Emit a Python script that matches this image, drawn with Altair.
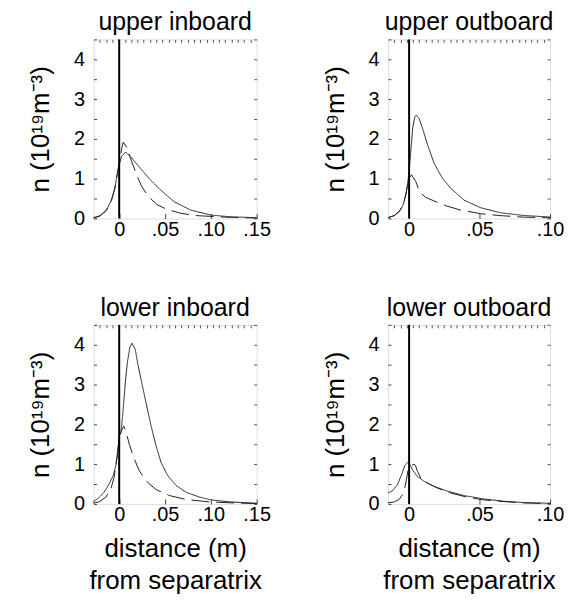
import altair as alt
import pandas as pd

FONT = "Liberation Sans"

# ---------------- data ----------------
# upper inboard
ui_sx = [-0.028, -0.021, -0.014, -0.0085, -0.0048, -0.0022, 0.0, 0.0026, 0.007, 0.0136, 0.0228, 0.034, 0.045, 0.06, 0.078, 0.10, 0.122, 0.15]
ui_sy = [0.02, 0.07, 0.21, 0.46, 0.76, 1.10, 1.35, 1.56, 1.67, 1.52, 1.27, 0.97, 0.72, 0.42, 0.21, 0.085, 0.04, 0.02]
ui_dx = [-0.028, -0.021, -0.014, -0.0085, -0.0048, -0.0022, 0.0, 0.0026, 0.0044, 0.0088, 0.0136, 0.019, 0.0246, 0.032, 0.041, 0.052, 0.067, 0.085, 0.115, 0.15]
ui_dy = [0.01, 0.06, 0.20, 0.45, 0.75, 1.10, 1.40, 1.75, 1.92, 1.77, 1.43, 1.10, 0.80, 0.55, 0.35, 0.23, 0.13, 0.07, 0.034, 0.01]

# upper outboard
uo_sx = [-0.015, -0.0106, -0.0071, -0.0042, -0.0024, -0.0012, 0.0, 0.0012, 0.0026, 0.004, 0.0052, 0.0071, 0.0094, 0.013, 0.0177, 0.0236, 0.0295, 0.039, 0.0507, 0.065, 0.081, 0.10]
uo_sy = [0.02, 0.07, 0.17, 0.34, 0.59, 0.84, 1.18, 1.69, 2.28, 2.55, 2.60, 2.51, 2.28, 1.86, 1.39, 1.01, 0.76, 0.46, 0.27, 0.14, 0.076, 0.034]
uo_dx = [-0.015, -0.0106, -0.0071, -0.0042, -0.0024, -0.0012, 0.0, 0.0017, 0.0047, 0.0075, 0.0118, 0.0177, 0.026, 0.0366, 0.0507, 0.065, 0.081, 0.10]
uo_dy = [0.02, 0.07, 0.17, 0.34, 0.59, 0.80, 1.00, 1.10, 0.93, 0.66, 0.53, 0.44, 0.32, 0.21, 0.12, 0.07, 0.034, 0.017]

# lower inboard
li_sx = [-0.0285, -0.0238, -0.0165, -0.011, -0.0066, -0.0037, -0.0015, 0.0, 0.0018, 0.0037, 0.0055, 0.0073, 0.0091, 0.0117, 0.0139, 0.0176, 0.0201, 0.0238, 0.0293, 0.0348, 0.0402, 0.0457, 0.053, 0.0622, 0.0732, 0.0878, 0.1006, 0.1207, 0.15]
li_sy = [0.06, 0.125, 0.29, 0.50, 0.71, 0.96, 1.29, 1.71, 1.79, 2.21, 2.71, 3.21, 3.58, 3.94, 4.04, 3.88, 3.54, 3.13, 2.54, 1.96, 1.46, 1.04, 0.71, 0.46, 0.29, 0.17, 0.10, 0.05, 0.017]
li_dx = [-0.0285, -0.022, -0.0146, -0.0091, -0.0055, -0.0037, -0.0018, 0.0, 0.0018, 0.0048, 0.0073, 0.011, 0.0165, 0.022, 0.0293, 0.0402, 0.0549, 0.0732, 0.0988, 0.124, 0.15]
li_dy = [0.02, 0.05, 0.17, 0.375, 0.67, 0.96, 1.29, 1.71, 1.79, 1.96, 1.83, 1.50, 1.125, 0.83, 0.58, 0.36, 0.21, 0.11, 0.05, 0.025, 0.008]

# lower outboard
lo_sx = [-0.015, -0.0118, -0.0083, -0.0054, -0.0031, -0.0012, 0.0, 0.0024, 0.0059, 0.0106, 0.0177, 0.0271, 0.0389, 0.053, 0.0672, 0.0814, 0.10]
lo_sy = [0.275, 0.33, 0.48, 0.73, 0.96, 1.04, 1.03, 0.86, 0.69, 0.57, 0.44, 0.32, 0.21, 0.125, 0.067, 0.033, 0.017]
lo_dx = [-0.015, -0.0106, -0.0071, -0.0047, -0.0031, -0.0017, -0.0005, 0.0, 0.002, 0.0035, 0.0045, 0.0059, 0.0083, 0.013, 0.02, 0.0295, 0.0413, 0.053, 0.0672, 0.0814, 0.10]
lo_dy = [0.025, 0.05, 0.11, 0.23, 0.40, 0.65, 0.90, 0.92, 0.97, 1.00, 0.97, 0.82, 0.65, 0.525, 0.40, 0.275, 0.167, 0.10, 0.058, 0.025, 0.008]

titles = ["upper inboard", "upper outboard", "lower inboard", "lower outboard"]
in_domain = [-0.028, 0.15]
out_domain = [-0.015, 0.10]
in_ticks = [0, 0.05, 0.10, 0.15]
out_ticks = [0, 0.05, 0.10]
y_domain = [0, 4.5]
y_ticks = [0, 0.5, 1, 1.5, 2, 2.5, 3, 3.5, 4, 4.5]

Y_TITLE = "n (10\u00b9\u2079m\u207b\u00b3)"
X_TITLE = ["distance (m)", "from separatrix"]

W_IN, W_OUT, H = 164, 163, 180


def panel(title, sx, sy, dx, dy, domain, ticks, width, show_xtitle):
    df = pd.DataFrame(
        {
            "x": list(sx) + list(dx),
            "n": list(sy) + list(dy),
            "kind": ["solid"] * len(sx) + ["dashed"] * len(dx),
        }
    )
    xscale = alt.Scale(domain=domain, nice=False, zero=False)
    yscale = alt.Scale(domain=y_domain, nice=False, zero=False)
    top_ticks = [round(domain[0] + i * (domain[1] - domain[0]) / 26, 5) for i in range(1, 26)]

    xaxis_kw = dict(
        orient="bottom", values=ticks, offset=-5, tickSize=5, domain=False, grid=False,
        labelExpr="datum.value == 0 ? '0' : replace(format(datum.value, '.2f'), '0.', '.')",
        labelFont=FONT, labelFontSize=20, labelColor="black", labelPadding=1,
        labelFlush=False, labelOverlap=False, labelBound=False,
        tickColor="#444", tickWidth=1,
    )
    if show_xtitle:
        xaxis_kw.update(title=X_TITLE, titleFont=FONT, titleFontSize=26, titleFontWeight="normal",
                        titleColor="black", titlePadding=11, titleLineHeight=32)
    else:
        xaxis_kw.update(title=None)

    lines = alt.Chart(df).mark_line(strokeWidth=1, color="#222").encode(
        x=alt.X("x:Q", scale=xscale, axis=alt.Axis(**xaxis_kw)),
        y=alt.Y(
            "n:Q", scale=yscale,
            axis=alt.Axis(
                orient="left", values=y_ticks, offset=-3, tickSize=3, domain=False, grid=False,
                labelExpr="datum.value % 1 ? '' : format(datum.value, 'd')",
                labelFont=FONT, labelFontSize=20, labelColor="black", labelPadding=9,
                labelFlush=False, labelOverlap=False, labelBound=False,
                tickColor="#444", tickWidth=1,
                title=Y_TITLE, titleFont=FONT, titleFontSize=26, titleFontWeight="normal",
                titleColor="black", titlePadding=20,
            ),
        ),
        strokeDash=alt.StrokeDash(
            "kind:N",
            scale=alt.Scale(domain=["solid", "dashed"], range=[[1, 0], [18, 7]]),
            legend=None,
        ),
    )

    sep_df = pd.DataFrame({"x": [0.0], "y0": [0.0], "y1": [4.5]})
    sep = alt.Chart(sep_df).mark_rule(color="black", strokeWidth=2).encode(
        x=alt.X("x:Q", scale=xscale,
                axis=alt.Axis(orient="top", values=top_ticks, offset=-3, tickSize=3, domain=False,
                              labels=False, grid=False, title=None, tickColor="#555", tickWidth=1)),
        y=alt.Y("y0:Q", scale=yscale,
                axis=alt.Axis(orient="right", values=y_ticks, offset=-3, tickSize=3, domain=False,
                              labels=False, grid=False, title=None, tickColor="#555", tickWidth=1)),
        y2="y1:Q",
    )

    return (
        alt.layer(lines, sep)
        .resolve_axis(x="independent", y="independent")
        .properties(
            width=width, height=H,
            title=alt.TitleParams(title, font=FONT, fontSize=25, fontWeight="normal",
                                  color="black", offset=-6, anchor="middle"),
        )
    )


ui = panel(titles[0], ui_sx, ui_sy, ui_dx, ui_dy, in_domain, in_ticks, W_IN, False)
uo = panel(titles[1], uo_sx, uo_sy, uo_dx, uo_dy, out_domain, out_ticks, W_OUT, False)
li = panel(titles[2], li_sx, li_sy, li_dx, li_dy, in_domain, in_ticks, W_IN, True)
lo = panel(titles[3], lo_sx, lo_sy, lo_dx, lo_dy, out_domain, out_ticks, W_OUT, True)

chart = (
    alt.concat(ui, uo, li, lo, columns=2, spacing={"row": 107, "column": 132}, bounds="flush")
    .properties(padding={"left": 19, "top": 0, "right": 0, "bottom": 0})
    .configure_view(stroke="#666", strokeWidth=1)
    .configure(background="white")
)

chart.save("out.html", embed_options={"renderer": "svg", "actions": False})
